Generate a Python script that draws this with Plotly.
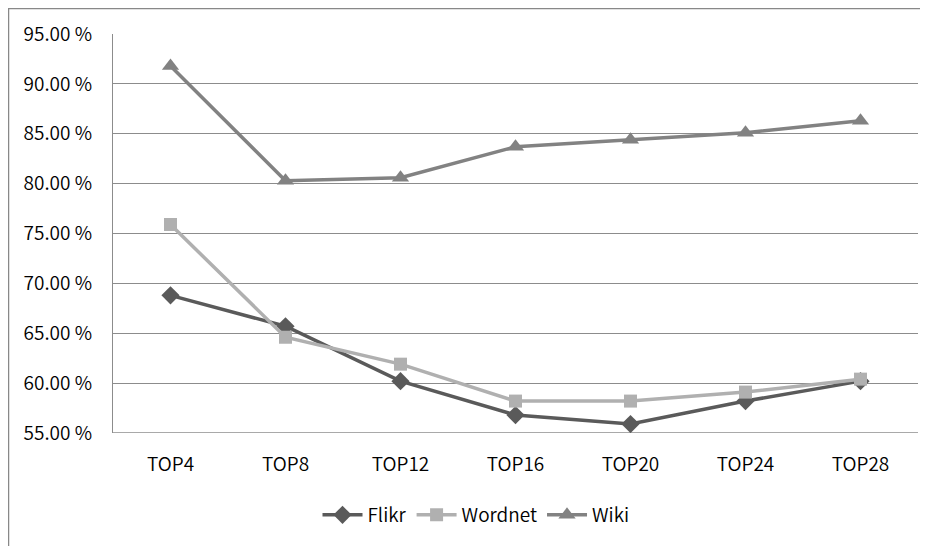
import plotly.graph_objects as go

categories = ["TOP4", "TOP8", "TOP12", "TOP16", "TOP20", "TOP24", "TOP28"]
flikr = [68.8, 65.7, 60.2, 56.8, 55.9, 58.2, 60.2]
wordnet = [75.9, 64.6, 61.9, 58.2, 58.2, 59.1, 60.4]
wiki = [91.8, 80.3, 80.6, 83.7, 84.4, 85.1, 86.3]

FONT = "Noto Sans CJK KR, Open Sans, sans-serif"
FW = 350

# The page has an 8px body margin, so the figure is sized/offset to compensate.
W, H = 920, 538
L, R, T, B = 105, 10, 26, 113
pw, ph = W - L - R, H - T - B

def px_x(x):
    return (x - L) / pw

def px_y(y):
    return (H - B - y) / ph

fig = go.Figure()
fig.add_trace(go.Scatter(x=categories, y=flikr, name="Flikr", mode="lines+markers",
                         line=dict(color="#5a5a5a", width=3.5),
                         marker=dict(symbol="diamond", size=14, color="#5a5a5a")))
fig.add_trace(go.Scatter(x=categories, y=wordnet, name="Wordnet", mode="lines+markers",
                         line=dict(color="#b0b0b0", width=3.5),
                         marker=dict(symbol="square", size=13, color="#b0b0b0")))
fig.add_trace(go.Scatter(x=categories, y=wiki, name="Wiki", mode="lines+markers",
                         line=dict(color="#828282", width=3.5),
                         marker=dict(symbol="triangle-up", size=15, color="#828282")))

fig.update_layout(
    width=W, height=H,
    margin=dict(l=L, r=R, t=T, b=B, autoexpand=False),
    paper_bgcolor="white", plot_bgcolor="white",
    font=dict(family=FONT, size=19, color="#000", weight=FW),
    showlegend=True,
    legend=dict(orientation="h", x=px_x(468), xanchor="center", y=px_y(507), yanchor="middle",
                font=dict(size=19, weight=FW, color="#000"), itemwidth=40, tracegroupgap=0),
    xaxis=dict(type="category", range=[-0.5, 6.5], showgrid=False, showline=False, ticks="",
               tickfont=dict(size=19, weight=FW, color="#000"), ticklabelstandoff=18),
    yaxis=dict(range=[55, 95], dtick=5, tick0=55, tickformat=".2f", ticksuffix=" %",
               showgrid=True, gridcolor="#8c8c8c", gridwidth=1.3,
               showline=True, linecolor="#8c8c8c", linewidth=1.3,
               zeroline=False, ticks="", ticklen=0,
               tickfont=dict(size=19, weight=FW, color="#000"),
               ticklabelstandoff=16),
    shapes=[
        dict(type="line", xref="paper", yref="paper", x0=px_x(0), x1=1.2, y0=px_y(0), y1=px_y(0),
             line=dict(color="#888888", width=2.5)),
        dict(type="line", xref="paper", yref="paper", x0=px_x(0), x1=px_x(0), y0=-0.4, y1=px_y(0),
             line=dict(color="#888888", width=2.5)),
        dict(type="line", xref="paper", yref="y", x0=0, x1=1, y0=55, y1=55,
             line=dict(color="#8c8c8c", width=1.3), layer="below"),
    ],
)

fig.write_html("out.html")
